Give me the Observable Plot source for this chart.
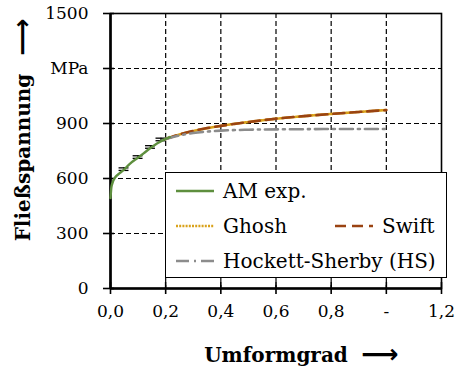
<!DOCTYPE html>
<html><head><meta charset="utf-8">
<script src="https://cdn.jsdelivr.net/npm/d3@7"></script>
<script src="https://cdn.jsdelivr.net/npm/@observablehq/plot@0.6"></script>
<style>
body{margin:0;background:#fff;}
#wrap{position:relative;width:456px;height:368px;font-family:"DejaVu Serif",serif;}
#legend{position:absolute;left:165px;top:172px;width:280px;height:104px;border:1.4px solid #000;background:#fff;font-size:20px;color:#000;}
#legend .item{position:absolute;display:flex;align-items:center;height:24px;}
#legend svg{display:block;}
#legend span{margin-left:9px;white-space:nowrap;}
</style></head>
<body>
<div id="wrap"></div>
<script>
// Data
const amX = [0, 0.003, 0.007, 0.018, 0.03, 0.047, 0.07, 0.098, 0.12, 0.145, 0.17, 0.2, 0.215];
const amY = [493, 550, 575, 608, 625, 646, 680, 712, 737, 766, 792, 816, 826];

const errX = [0.049, 0.10, 0.145, 0.183];
const errY = [651, 717, 772, 813];
const errE = [7, 7, 7, 7];

const fitX   = [0.2, 0.25, 0.3, 0.35, 0.4, 0.5, 0.6, 0.7, 0.8, 0.9, 1.0];
const ghoshY = [816, 840, 859, 874, 887, 908, 926, 940, 952, 963, 974];
const swiftY = [816, 840, 860, 875, 887, 908, 926, 940, 952, 963, 973];
const hsY    = [816, 835, 848, 856, 861, 866, 868, 869, 870, 870, 870];

const xTicks = [0, 0.2, 0.4, 0.6, 0.8, 1.0, 1.2];
const xTickLabels = ["0,0", "0,2", "0,4", "0,6", "0,8", "-", "1,2"];
const yTicks = [0, 300, 600, 900, 1200, 1500];
const yTickLabels = ["0", "300", "600", "900", "MPa", "1500"];
const xGrid = [0.2, 0.4, 0.6, 0.8, 1.0];
const yGrid = [300, 600, 900, 1200];

const seriesNames = ["AM exp.", "Ghosh", "Swift", "Hockett-Sherby (HS)"];
const seriesColors = ["#5E8F3E", "#D9A21B", "#9A4312", "#8C8C8C"];
const seriesDash = [null, "2,1.2", "11,6", "13,5,2,5"];

const xLabel = "Umformgrad";
const yLabel = "Fließspannung";
const arrowGlyph = "⟶";

const amData = amX.map((x, i) => ({x, y: amY[i]}));
const errData = errX.map((x, i) => ({x, y: errY[i], e: errE[i]}));
const ghoshData = fitX.map((x, i) => ({x, y: ghoshY[i]}));
const swiftData = fitX.map((x, i) => ({x, y: swiftY[i]}));
const hsData = fitX.map((x, i) => ({x, y: hsY[i]}));
const capHalf = 0.018;

const chart = Plot.plot({
  width: 456, height: 368,
  marginLeft: 110, marginRight: 15, marginTop: 13, marginBottom: 80,
  x: {domain: [0, 1.2]},
  y: {domain: [0, 1500]},
  style: {fontFamily: "DejaVu Serif", fontSize: "17px", color: "#000", background: "#fff"},
  marks: [
    Plot.ruleX(xGrid, {stroke: "#000", strokeWidth: 1.2, strokeDasharray: "5,3"}),
    Plot.ruleY(yGrid, {stroke: "#000", strokeWidth: 1.2, strokeDasharray: "5,3"}),
    Plot.frame({stroke: "#000", strokeWidth: 1.6}),
    Plot.ruleX([0], {stroke: "#000", strokeWidth: 2.6}),
    Plot.ruleY([0], {stroke: "#000", strokeWidth: 2.6}),
    // crossing tick marks
    Plot.axisX({ticks: xTicks, tickSize: 12, dy: -6, tickFormat: () => "", label: null, strokeWidth: 1.6}),
    Plot.axisY({ticks: yTicks, tickSize: 11, dx: 4, tickFormat: () => "", label: null, strokeWidth: 1.6}),
    // tick labels
    Plot.axisX({ticks: xTicks, tickSize: 0, tickPadding: 16, tickFormat: d => xTickLabels[xTicks.indexOf(d)], label: null, fontSize: 17}),
    Plot.axisY({ticks: yTicks, tickSize: 0, tickPadding: 22, tickFormat: d => yTickLabels[yTicks.indexOf(d)], label: null, fontSize: 17}),
    // error bars
    Plot.ruleX(errData, {x: "x", y1: d => d.y - d.e, y2: d => d.y + d.e, stroke: "#000", strokeWidth: 1.3}),
    Plot.ruleY(errData, {y: d => d.y - d.e, x1: d => d.x - capHalf, x2: d => d.x + capHalf, stroke: "#000", strokeWidth: 1.3}),
    Plot.ruleY(errData, {y: d => d.y + d.e, x1: d => d.x - capHalf, x2: d => d.x + capHalf, stroke: "#000", strokeWidth: 1.3}),
    // fits
    Plot.line(ghoshData, {x: "x", y: "y", stroke: seriesColors[1], strokeWidth: 2.6, strokeDasharray: seriesDash[1], curve: "monotone-x"}),
    Plot.line(swiftData, {x: "x", y: "y", stroke: seriesColors[2], strokeWidth: 2.6, strokeDasharray: seriesDash[2], curve: "monotone-x"}),
    Plot.line(hsData, {x: "x", y: "y", stroke: seriesColors[3], strokeWidth: 2.6, strokeDasharray: seriesDash[3], curve: "monotone-x"}),
    Plot.line(amData, {x: "x", y: "y", stroke: seriesColors[0], strokeWidth: 2.4, curve: "monotone-x"}),
    // axis titles
    Plot.text([xLabel], {frameAnchor: "bottom", textAnchor: "middle", lineAnchor: "middle", dy: 67, fontWeight: "bold", fontSize: 20}),
    Plot.text([arrowGlyph], {frameAnchor: "bottom", textAnchor: "middle", lineAnchor: "middle", dx: 104, dy: 66, fontSize: 26, fontFamily: "DejaVu Sans", fontWeight: "bold"}),
    Plot.text([yLabel], {frameAnchor: "left", textAnchor: "middle", lineAnchor: "middle", rotate: -90, dx: -87, dy: 6.5, fontWeight: "bold", fontSize: 20}),
    Plot.text([arrowGlyph], {frameAnchor: "left", textAnchor: "middle", lineAnchor: "middle", rotate: -90, dx: -88, dy: -114, fontSize: 26, fontFamily: "DejaVu Sans", fontWeight: "bold"})
  ]
});

const wrap = document.getElementById("wrap");
wrap.appendChild(chart);

// Legend overlay
const legend = d3.select(wrap).append("div").attr("id", "legend");
const legendPos = [[10, 6], [10, 41], [169, 41], [10, 76]];
seriesNames.forEach((name, i) => {
  const item = legend.append("div").attr("class", "item")
    .style("left", legendPos[i][0] + "px").style("top", legendPos[i][1] + "px");
  const svg = item.append("svg").attr("width", 38).attr("height", 10);
  svg.append("line").attr("x1", 0).attr("x2", 38).attr("y1", 5).attr("y2", 5)
    .attr("stroke", seriesColors[i]).attr("stroke-width", 2.6)
    .attr("stroke-dasharray", seriesDash[i]);
  item.append("span").text(name);
});
</script>
</body></html>
